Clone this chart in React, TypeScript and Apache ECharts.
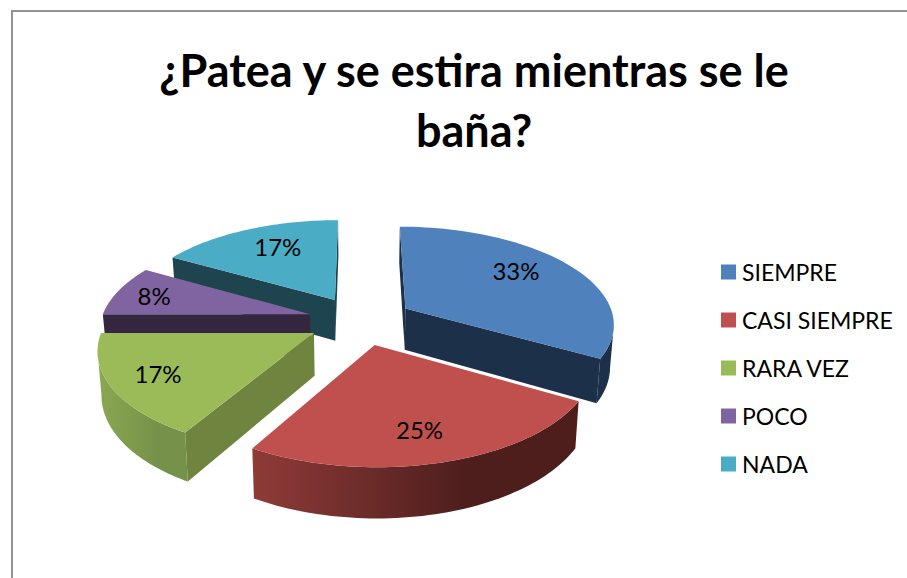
import React, { useEffect, useRef } from "react";
import * as echarts from "echarts";

const titleLines = ["¿Patea y se estira mientras se le", "baña?"];
const categories = ["SIEMPRE", "CASI SIEMPRE", "RARA VEZ", "POCO", "NADA"];
const values = [4, 3, 2, 1, 2];
const percentLabels = ["33%", "25%", "17%", "8%", "17%"];
const topColors = ["#4f81bd", "#c0504d", "#9bbb59", "#8064a2", "#4bacc6"];
const cutColors = ["#1d3049", "#6f2f2d", "#6f843f", "#35263f", "#1e454f"];
const wallLeftColors = ["#1d3049", "#8f3b38", "#8aa751", "#35263f", "#1e454f"];
const wallRightColors = ["#1d3049", "#4e1e1d", "#76924a", "#35263f", "#1e454f"];
const paintOrder = [4, 3, 0, 2, 1];
const labelReach = [0.73, 0.745, 0.78, 0.805, 0.71];
const labelTurnDeg = [-6.7, 1.2, 0.4, -0.8, 3.4];

const CX = 360.5, CY = 320.5, RADIUS = 206, EXPLODE = 52, TILT = 0.47, PERSP = 0.0007, XSCALE = 1.015, DEPTH = 42;
const total = values.reduce((a, b) => a + b, 0);

function project(X: number, Y: number, low: boolean): [number, number] {
  const s = 1 / (1 + PERSP * Y);
  const narrow = low ? 0.985 : 1;
  return [CX + X * s * XSCALE * narrow, CY - Y * TILT * s + (low ? DEPTH * s : 0)];
}

function renderSlice(index: number) {
  return (_params: any, api: any) => {
    const before = values.slice(0, index).reduce((a, b) => a + b, 0);
    const a0 = (before / total) * Math.PI * 2;
    const a1 = ((before + api.value(0)) / total) * Math.PI * 2;
    const mid = (a0 + a1) / 2;
    const ox = EXPLODE * Math.sin(mid), oy = EXPLODE * Math.cos(mid);
    const at = (a: number, r: number, low: boolean) => project(ox + r * Math.sin(a), oy + r * Math.cos(a), low);
    const steps = 60;
    const angles: number[] = [];
    for (let i = 0; i <= steps; i++) angles.push(a0 + ((a1 - a0) * i) / steps);
    const topArc = angles.map((a) => at(a, RADIUS, false));
    const children: any[] = [];
    const apex = at(a0, 0, false);
    if (topArc[0][0] < apex[0]) {
      children.push({ type: "polygon", silent: true, shape: { points: [apex, topArc[0], at(a0, RADIUS, true), at(a0, 0, true)] }, style: { fill: cutColors[index] } });
    }
    if (apex[0] < topArc[steps][0]) {
      children.push({ type: "polygon", silent: true, shape: { points: [apex, topArc[steps], at(a1, RADIUS, true), at(a1, 0, true)] }, style: { fill: cutColors[index] } });
    }
    const frontTop: [number, number][] = [];
    const frontLow: [number, number][] = [];
    angles.forEach((a, i) => {
      if (i === steps) return;
      if (topArc[i + 1][0] < topArc[i][0]) {
        if (frontTop.length === 0) { frontTop.push(topArc[i]); frontLow.push(at(a, RADIUS, true)); }
        frontTop.push(topArc[i + 1]);
        frontLow.push(at(angles[i + 1], RADIUS, true));
      }
    });
    if (frontTop.length > 1) {
      children.push({
        type: "polygon",
        silent: true,
        shape: { points: [...frontTop, ...frontLow.reverse()] },
        style: {
          fill: new echarts.graphic.LinearGradient(0, 0, 1, 0, [
            { offset: 0, color: wallLeftColors[index] },
            { offset: 0.65, color: wallRightColors[index] },
            { offset: 1, color: wallRightColors[index] },
          ]),
        },
      });
    }
    children.push({
      type: "polygon",
      silent: true,
      shape: { points: [apex, ...topArc] },
      style: { fill: topColors[index] },
    });
    const lp = at(mid + (labelTurnDeg[index] * Math.PI) / 180, RADIUS * labelReach[index], false);
    children.push({
      type: "text",
      silent: true,
      style: {
        text: percentLabels[index],
        x: lp[0],
        y: lp[1],
        align: "center",
        verticalAlign: "middle",
        fill: "#000000",
        fontFamily: "Lato",
        fontSize: 24,
      },
    });
    return { type: "group", children };
  };
}

export default function App() {
  const ref = useRef<HTMLDivElement>(null);
  useEffect(() => {
    const chart = echarts.init(ref.current!, undefined, { renderer: "svg" });
    chart.setOption({
      animation: false,
      backgroundColor: "#ffffff",
      title: {
        text: titleLines.join("\n"),
        left: 469,
        top: 35,
        textAlign: "center",
        textStyle: { fontFamily: "Lato", fontWeight: "bold", fontSize: 45, lineHeight: 60, color: "#000000" },
      },
      legend: {
        orient: "vertical",
        left: 716,
        top: 254,
        icon: "rect",
        itemWidth: 15,
        itemHeight: 15,
        itemGap: 22,
        selectedMode: false,
        data: categories,
        textStyle: { fontFamily: "Lato", fontSize: 23, lineHeight: 26, color: "#000000", padding: [0, 0, 0, 1] },
      },
      graphic: [
        {
          type: "rect",
          silent: true,
          shape: { x: 12, y: 11, width: 1000, height: 1000 },
          style: { fill: "none", stroke: "#939393", lineWidth: 2 },
        },
      ],
      series: paintOrder.map((i) => ({
        type: "custom",
        name: categories[i],
        coordinateSystem: "none",
        silent: true,
        z: 2 + paintOrder.indexOf(i),
        itemStyle: { color: topColors[i] },
        data: [[values[i]]],
        renderItem: renderSlice(i),
      })),
    });
    return () => chart.dispose();
  }, []);
  return <div ref={ref} style={{ position: "absolute", left: 0, top: 0, width: 907, height: 578 }} />;
}
